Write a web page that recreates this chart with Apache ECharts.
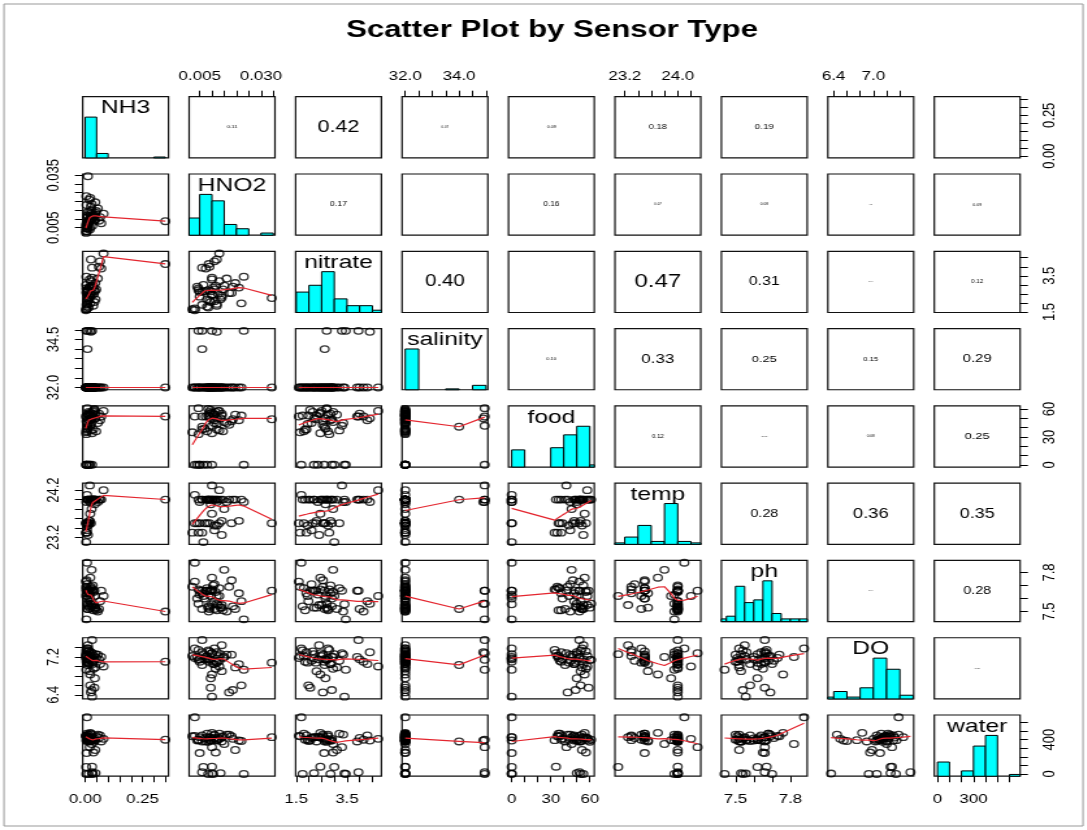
<!DOCTYPE html>
<html><head><meta charset="utf-8">
<script src="https://cdn.jsdelivr.net/npm/echarts@6/dist/echarts.min.js"></script>
<style>
html,body{margin:0;padding:0;background:#fff;overflow:hidden}
#wrap{position:absolute;left:0;top:0;width:1087px;height:830px;overflow:hidden;background:#fff}
#chart{position:absolute;left:0;top:0;height:830px;transform-origin:0 0}
</style></head><body>
<div id="wrap"><div id="chart"></div></div>
<script>
// ---------------- data ----------------
const varNames = ['NH3','HNO2','nitrate','salinity','food','temp','ph','DO','water'];

const NH3 = [0.350,0.012,0.010,0.020,0.005,0.030,0.025,0.010,0.008,0.015,0.006,0.004,0.030,0.020,0.060,0.065,0.070,0.080,0.055,0.004,0.006,0.008,0.012,0.005,0.003,0.007,0.010,0.015,0.020,0.006,0.009,0.013,0.018,0.025,0.022,0.028,0.015,0.035,0.040,0.045,0.020,0.030,0.038,0.025,0.042,0.048,0.033,0.028,0.036,0.044,0.022,0.040];
const HNO2 = [0.0087,0.0344,0.0045,0.0100,0.0230,0.0060,0.0120,0.0060,0.0030,0.0080,0.0050,0.0065,0.0100,0.0040,0.0090,0.0110,0.0075,0.0130,0.0160,0.0020,0.0060,0.0110,0.0140,0.0045,0.0030,0.0080,0.0120,0.0090,0.0140,0.0180,0.0070,0.0110,0.0210,0.0130,0.0100,0.0150,0.0085,0.0120,0.0095,0.0135,0.0050,0.0100,0.0125,0.0170,0.0095,0.0145,0.0105,0.0185,0.0115,0.0195,0.0220,0.0085];
const nitrate = [4.15,2.27,2.70,3.30,3.45,3.95,4.40,2.62,1.70,2.20,2.60,3.00,3.40,2.90,4.00,4.30,3.90,4.73,3.35,1.65,1.90,2.10,2.40,2.80,1.60,1.80,1.95,2.15,2.30,2.55,2.65,2.75,2.85,3.20,2.45,2.95,1.75,1.85,2.05,2.20,2.35,2.45,2.50,2.55,2.65,2.75,2.85,2.90,2.95,3.10,1.98,2.70];
const salinity = [32,32,34.95,34.95,34.95,34.95,34.9,34.0,32,32,32,32,32,32,32,32,32,32,32,32,32,32,32,32,32,32,32,32,32,32,32,32,32,32,32,32,32,32,32,32,32,32,32,32,32,32,32,32,32,32,32,32];
const food = [52,49,61,42,0,52,50,41,0,0,0,0,0,0,55,48,52,58,45,35,38,45,55,33,52,36,44,57,53,47,39,54,48,37,56,46,53,38,59,50,0,34,58,43,50,36,55,49,57,54,53,60];
const temp = [24.0,23.5,24.0,24.3,23.95,24.0,23.95,24.0,24.1,24.0,23.5,23.1,24.0,23.5,24.0,24.0,24.0,24.2,23.95,23.3,23.3,23.35,23.25,23.3,23.5,23.5,23.45,23.5,23.55,23.5,23.5,23.45,23.55,23.5,23.7,23.8,24.0,24.0,24.0,24.0,23.95,24.0,24.0,24.0,23.9,24.0,24.0,24.0,24.0,24.0,24.0,24.0];
const ph = [7.50,7.66,7.56,7.66,7.44,7.66,7.56,7.52,7.875,7.66,7.66,7.62,7.556,7.60,7.52,7.58,7.66,7.62,7.50,7.69,7.64,7.71,7.55,7.67,7.73,7.68,7.62,7.66,7.53,7.74,7.60,7.52,7.64,7.68,7.76,7.82,7.54,7.51,7.66,7.53,7.63,7.67,7.55,7.69,7.62,7.51,7.70,7.54,7.65,7.52,7.58,7.53];
const DO = [7.10,7.08,7.14,7.28,6.93,7.56,7.30,7.03,7.38,7.17,7.10,7.26,6.36,7.20,7.15,7.05,7.20,7.00,7.25,7.22,7.30,7.12,7.45,7.35,7.18,7.22,7.08,7.32,6.90,7.25,7.15,7.38,7.05,7.12,6.83,7.20,7.34,7.10,6.55,7.26,7.15,7.28,7.22,6.45,6.75,7.18,7.05,6.50,6.95,6.98,6.60,7.14];
const water = [400,430,400,313,0,20,390,380,662,430,244,81,5,390,420,450,380,410,460,440,450,420,430,395,445,470,400,425,380,440,415,460,390,470,480,350,0,400,390,10,430,85,420,460,395,440,0,410,250,280,385,375];
const dataCols = [NH3, HNO2, nitrate, salinity, food, temp, ph, DO, water];

// histogram breaks and counts (diagonal panels)
const breaksNH3 = [0,0.05,0.1,0.15,0.2,0.25,0.3,0.35];          const countsNH3 = [46,5,0,0,0,0,1];
const breaksHNO2 = [0,0.005,0.01,0.015,0.02,0.025,0.03,0.035];   const countsHNO2 = [8,19,16,5,3,0,1];
const breaksNitrate = [1.5,2,2.5,3,3.5,4,4.5,5];                 const countsNitrate = [9,12,18,6,3,3,1];
const breaksSalinity = [32,32.5,33,33.5,34,34.5,35];             const countsSalinity = [46,0,0,1,0,5];
const breaksFood = [0,10,20,30,40,50,60,70];                     const countsFood = [8,0,0,9,15,19,1];
const breaksTemp = [23.0,23.2,23.4,23.6,23.8,24.0,24.2,24.4];    const countsTemp = [1,5,13,2,28,2,1];
const breaksPh = [7.40,7.45,7.50,7.55,7.60,7.65,7.70,7.75,7.80,7.85,7.90]; const countsPh = [1,2,13,7,8,15,3,1,1,1];
const breaksDO = [6.2,6.4,6.6,6.8,7.0,7.2,7.4,7.6];              const countsDO = [1,4,1,6,22,16,2];
const breaksWater = [0,100,200,300,400,500,600,700];             const countsWater = [8,0,3,17,23,0,1];
const histBreaks = [breaksNH3,breaksHNO2,breaksNitrate,breaksSalinity,breaksFood,breaksTemp,breaksPh,breaksDO,breaksWater];
const histCounts = [countsNH3,countsHNO2,countsNitrate,countsSalinity,countsFood,countsTemp,countsPh,countsDO,countsWater];

// tick marks and labelled tick values
const ticksNH3 = [0,0.05,0.1,0.15,0.2,0.25,0.3,0.35];
const ticksHNO2 = [0.005,0.01,0.015,0.02,0.025,0.03,0.035];
const ticksNitrate = [1.5,2,2.5,3,3.5,4,4.5];
const ticksSalinity = [32,32.5,33,33.5,34,34.5,35];
const ticksFood = [0,10,20,30,40,50,60];
const ticksTemp = [23.2,23.4,23.6,23.8,24.0,24.2];
const ticksPh = [7.5,7.6,7.7,7.8];
const ticksDO = [6.4,6.6,6.8,7.0,7.2,7.4];
const ticksWater = [0,100,200,300,400,500,600];
const tickSets = [ticksNH3,ticksHNO2,ticksNitrate,ticksSalinity,ticksFood,ticksTemp,ticksPh,ticksDO,ticksWater];
const labelsTop    = [null,[0.005,0.03],null,[32,34],null,[23.2,24.0],null,[6.4,7.0],null];
const labelsBottom = [[0,0.25],null,[1.5,3.5],null,[0,30,60],null,[7.5,7.8],null,[0,300]];
const labelsLeft   = [null,[0.005,0.035],null,[32,34.5],null,[23.2,24.2],null,[6.4,7.2],null];
const labelsRight  = [[0,0.25],null,[1.5,3.5],null,[0,30,60],null,[7.5,7.8],null,[0,400]];
const labelDecimals = [2,3,1,1,0,1,1,1,0];

// correlations printed in the upper panels (row i, columns i+1..8)
const corrLabels = [
  ['0.11','0.42','0.07','0.09','0.18','0.19','0.01','0.01'],
  ['0.17','0.01','0.16','0.07','0.08','0.03','0.09'],
  ['0.40','0.01','0.47','0.31','0.04','0.12'],
  ['0.10','0.33','0.25','0.15','0.29'],
  ['0.12','0.06','0.08','0.25'],
  ['0.28','0.36','0.35'],
  ['0.04','0.28'],
  ['0.05']
];
const titleText = 'Scatter Plot by Sensor Type';

// ---------------- layout ----------------
const SX = 1.3;                 // horizontal stretch of the reference picture
const W = 1087, H = 830, IW = W / SX;
const P_LEFT0 = 82.7, P_DX = 106.45, P_W = 85.8;
const P_TOP0 = 96.7, P_DY = 77.29, P_H = 61.2;
const FONT = '"Liberation Sans", Arial, sans-serif';

const el = document.getElementById('chart');
el.style.width = IW + 'px';
el.style.transform = 'scaleX(' + SX + ')';
const chart = echarts.init(el, null, {renderer: 'canvas', width: IW, height: H});

// ---------------- lowess (R clowess port) ----------------
function lowess(xIn, yIn, f, nsteps) {
  const n = xIn.length;
  const ord = xIn.map((v, i) => i).sort((a, b) => (xIn[a] - xIn[b]) || (a - b));
  const x = [0], y = [0];
  ord.forEach(i => { x.push(xIn[i]); y.push(yIn[i]); });
  const ys = new Array(n + 1).fill(0), rw = new Array(n + 1).fill(1), res = new Array(n + 1).fill(0);
  const delta = 0.01 * (x[n] - x[1]);
  const ns = Math.max(2, Math.min(n, Math.floor(f * n + 1e-7)));
  const range = x[n] - x[1];
  function lowest(xs, nleft, nright, userw) {
    const w = res;
    const h = Math.max(xs - x[nleft], x[nright] - xs);
    const h9 = 0.999 * h, h1 = 0.001 * h;
    let a = 0, j = nleft;
    while (j <= n) {
      w[j] = 0;
      const r = Math.abs(x[j] - xs);
      if (r <= h9) {
        if (r <= h1) w[j] = 1; else { const q = r / h; const t = 1 - q * q * q; w[j] = t * t * t; }
        if (userw) w[j] *= rw[j];
        a += w[j];
      } else if (x[j] > xs) break;
      j++;
    }
    const nrt = j - 1;
    if (a <= 0) return null;
    for (j = nleft; j <= nrt; j++) w[j] /= a;
    if (h > 0) {
      a = 0;
      for (j = nleft; j <= nrt; j++) a += w[j] * x[j];
      let b = xs - a, c = 0;
      for (j = nleft; j <= nrt; j++) c += w[j] * (x[j] - a) * (x[j] - a);
      if (Math.sqrt(c) > 0.001 * range) {
        b /= c;
        for (j = nleft; j <= nrt; j++) w[j] *= (b * (x[j] - a) + 1);
      }
    }
    let s = 0;
    for (j = nleft; j <= nrt; j++) s += w[j] * y[j];
    return s;
  }
  let iter = 1;
  while (iter <= nsteps + 1) {
    let nleft = 1, nright = ns, last = 0, i = 1;
    for (;;) {
      if (nright < n) {
        const d1 = x[i] - x[nleft], d2 = x[nright + 1] - x[i];
        if (d1 > d2) { nleft++; nright++; continue; }
      }
      const v = lowest(x[i], nleft, nright, iter > 1);
      ys[i] = (v === null) ? y[i] : v;
      if (last < i - 1) {
        const denom = x[i] - x[last];
        for (let j = last + 1; j < i; j++) {
          const alpha = (x[j] - x[last]) / denom;
          ys[j] = alpha * ys[i] + (1 - alpha) * ys[last];
        }
      }
      last = i;
      const cut = x[last] + delta;
      for (i = last + 1; i <= n; i++) {
        if (x[i] > cut) break;
        if (x[i] === x[last]) { ys[i] = ys[last]; last = i; }
      }
      i = Math.max(last + 1, i - 1);
      if (last >= n) break;
    }
    for (let k = 1; k <= n; k++) res[k] = y[k] - ys[k];
    let sc = 0; for (let k = 1; k <= n; k++) sc += Math.abs(res[k]); sc /= n;
    if (iter > nsteps) break;
    const ar = []; for (let k = 1; k <= n; k++) ar.push(Math.abs(res[k]));
    ar.sort((a, b) => a - b);
    const m1 = Math.floor(n / 2);
    let cmad;
    if (n % 2 === 0) { const m2 = n - m1 - 1; cmad = 3 * (ar[m1] + ar[m2]); } else cmad = 6 * ar[m1];
    if (cmad < 1e-7 * sc) break;
    const c9 = 0.999 * cmad, c1 = 0.001 * cmad;
    for (let k = 1; k <= n; k++) {
      const r = Math.abs(res[k]);
      rw[k] = r <= c1 ? 1 : (r <= c9 ? Math.pow(1 - (r / cmad) * (r / cmad), 2) : 0);
    }
    iter++;
  }
  const out = [];
  for (let k = 1; k <= n; k++) out.push([x[k], ys[k]]);
  return out;
}

// ---------------- build option ----------------
const NV = varNames.length;
const lo = [], hi = [];
dataCols.forEach(c => {
  const mn = Math.min(...c), mx = Math.max(...c), r = mx - mn;
  lo.push(mn - 0.04 * r); hi.push(mx + 0.04 * r);
});

const grids = [], xAxes = [], yAxes = [], series = [], graphics = [];
function panelRect(i, j) {
  return { left: (P_LEFT0 + j * P_DX) / SX, top: P_TOP0 + i * P_DY, width: P_W / SX, height: P_H };
}
function tickCfg(show, vals) {
  return { show: show, inside: false, customValues: vals || [], length: 6, lineStyle: { color: '#000', width: 1 } };
}
function labelCfg(show, vals, dec, extra) {
  return Object.assign({ show: show, customValues: vals || [], formatter: v => Number(v).toFixed(dec),
    fontFamily: FONT, fontSize: 13, color: '#000' }, extra || {});
}

for (let i = 0; i < NV; i++) {
  for (let j = 0; j < NV; j++) {
    const g = i * NV + j;
    const pr = panelRect(i, j);
    grids.push(Object.assign({ show: true, borderColor: '#111', borderWidth: 1.2, backgroundColor: 'transparent',
      outerBoundsMode: 'none', containLabel: false }, pr));

    let xPos = 'bottom', xShow = false, xLab = null;
    if (i === 0 && labelsTop[j]) { xPos = 'top'; xShow = true; xLab = labelsTop[j]; }
    if (i === NV - 1 && labelsBottom[j]) { xPos = 'bottom'; xShow = true; xLab = labelsBottom[j]; }
    xAxes.push({
      gridIndex: g, type: 'value', min: lo[j], max: hi[j], position: xPos,
      axisLine: { show: false, onZero: false }, splitLine: { show: false },
      axisTick: tickCfg(xShow, tickSets[j]),
      axisLabel: labelCfg(xShow, xLab, labelDecimals[j], { margin: xPos === 'top' ? 14 : 17 })
    });

    let yPos = 'left', yShow = false, yLab = null;
    if (j === 0 && labelsLeft[i]) { yPos = 'left'; yShow = true; yLab = labelsLeft[i]; }
    if (j === NV - 1 && labelsRight[i]) { yPos = 'right'; yShow = true; yLab = labelsRight[i]; }
    yAxes.push({
      gridIndex: g, type: 'value', min: lo[i], max: hi[i], position: yPos,
      axisLine: { show: false, onZero: false }, splitLine: { show: false },
      axisTick: tickCfg(yShow, tickSets[i]),
      axisLabel: labelCfg(yShow, yLab, labelDecimals[i], { rotate: 90, margin: yPos === 'left' ? 16 : 16 })
    });

    if (i > j) {
      const pts = dataCols[j].map((v, k) => [v, dataCols[i][k]]);
      series.push({
        type: 'scatter', xAxisIndex: g, yAxisIndex: g, data: pts, symbol: 'circle', symbolSize: 6.6,
        itemStyle: { color: 'rgba(0,0,0,0)', borderColor: '#000', borderWidth: 1.3 }, silent: true, z: 2
      });
      series.push({
        type: 'line', xAxisIndex: g, yAxisIndex: g, data: lowess(dataCols[j], dataCols[i], 2 / 3, 3),
        showSymbol: false, symbol: 'none', lineStyle: { color: '#e4262f', width: 1.2 }, silent: true, z: 3
      });
    } else if (i < j) {
      const txt = corrLabels[i][j - i - 1];
      const r = parseFloat(txt);
      graphics.push({
        type: 'text', x: pr.left + pr.width / 2, y: pr.top + pr.height / 2, silent: true,
        style: { text: txt, fill: '#000', font: (Math.max(0.5, 39.5 * r)).toFixed(2) + 'px ' + FONT,
          align: 'center', verticalAlign: 'middle', textAlign: 'center', textVerticalAlign: 'middle' }
      });
    }
  }
}

// diagonal histograms: extra y axes [0, 1.5]
for (let k = 0; k < NV; k++) {
  const g = k * NV + k;
  yAxes.push({ gridIndex: g, type: 'value', min: 0, max: 1.5, show: false, splitLine: { show: false },
    axisLine: { show: false, onZero: false } });
  const br = histBreaks[k], ct = histCounts[k], mx = Math.max(...ct);
  const bars = [];
  ct.forEach((c, b) => { if (c > 0) bars.push([br[b], br[b + 1], c / mx]); });
  series.push({
    type: 'custom', xAxisIndex: g, yAxisIndex: NV * NV + k, data: bars, silent: true, z: 2,
    renderItem: function (params, api) {
      const cs = params.coordSys;
      const p0 = api.coord([api.value(0), 0]), p1 = api.coord([api.value(1), api.value(2)]);
      const x0 = Math.max(p0[0], cs.x), x1 = Math.min(p1[0], cs.x + cs.width);
      if (x1 <= x0) return null;
      return { type: 'rect', shape: { x: x0, y: p1[1], width: x1 - x0, height: p0[1] - p1[1] },
        style: { fill: '#00FFFF', stroke: '#000', lineWidth: 1 } };
    }
  });
  const pr = panelRect(k, k);
  graphics.push({
    type: 'text', x: pr.left + pr.width / 2, y: pr.top + 11.5, silent: true, z: 10,
    style: { text: varNames[k], fill: '#000', font: '19px ' + FONT,
      align: 'center', verticalAlign: 'middle', textAlign: 'center', textVerticalAlign: 'middle' }
  });
}

// title and outer frame
graphics.push({
  type: 'text', x: 552 / SX, y: 30, silent: true,
  style: { text: titleText, fill: '#000', font: 'bold 24px ' + FONT,
    align: 'center', verticalAlign: 'middle', textAlign: 'center', textVerticalAlign: 'middle' }
});
graphics.push({
  type: 'rect', silent: true, shape: { x: 4 / SX, y: 4, width: (1083 - 4) / SX, height: 822 },
  style: { fill: 'none', stroke: '#999', lineWidth: 1 }
});

chart.setOption({
  animation: false,
  backgroundColor: '#fff',
  grid: grids, xAxis: xAxes, yAxis: yAxes, series: series, graphic: graphics
});
</script>
</body></html>
